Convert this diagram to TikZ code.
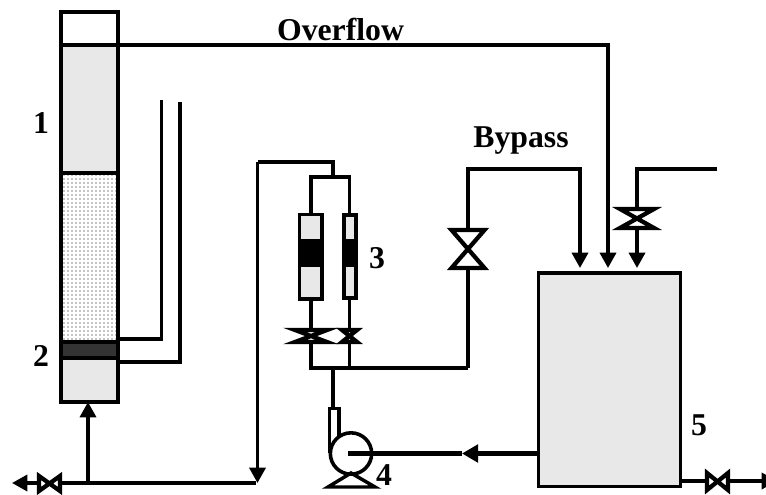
\documentclass[tikz,border=0pt]{standalone}
\usepackage{fontspec}
\setmainfont{Liberation Serif}
\usetikzlibrary{arrows.meta,patterns,calc}
\tikzset{
  pipe/.style={line width=2.6pt,line cap=butt,line join=miter},
  flow/.style={pipe,-{Triangle[length=11.5pt,width=12pt]}},
  wall/.style={draw,line width=2.7pt,minimum width=0pt,minimum height=0pt,inner sep=0pt,outer sep=0pt},
  lightfill/.style={wall,fill=black!9},
  tag/.style={font=\fontsize{23.8}{26}\selectfont\bfseries,inner sep=0pt},
  valve/.style={pipe,line width=3.2pt,fill=white},
}
% bow tie valve: centre, half width, half height
\newcommand{\valveV}[3]{\draw[valve] ($(#1)+(-#2,-#3)$) -- ($(#1)+(#2,-#3)$) -- ($(#1)+(-#2,#3)$) -- ($(#1)+(#2,#3)$) -- cycle;}
\newcommand{\valveH}[3]{\draw[valve] ($(#1)+(-#2,-#3)$) -- ($(#1)+(-#2,#3)$) -- ($(#1)+(#2,-#3)$) -- ($(#1)+(#2,#3)$) -- cycle;}
\begin{document}
\begin{tikzpicture}[x=0.75pt,y=-0.75pt]
  \useasboundingbox (0,0) rectangle (766,495);
  % column
  \path[lightfill] (61,45) rectangle (118,173);
  \path[pattern=dots,pattern color=black] (61,173) rectangle (118,342);
  \path[lightfill] (61,358) rectangle (118,402);
  \draw[wall] (61,12) rectangle (118,402);
  \draw[wall] (61,45) -- (118,45);
  \draw[wall] (61,173) -- (118,173);
  \draw[wall,fill=black!80] (61,342) rectangle (118,358);
  \coordinate (columntop) at (118,45);
  \coordinate (columnfoot) at (88,402);
  \coordinate (tapa) at (118,339);
  \coordinate (tapb) at (118,362);
  \coordinate (tubea) at (161.5,100);
  \coordinate (tubeb) at (180,102);
  \draw[pipe] (tubea) |- (tapa);
  \draw[pipe] (tubeb) |- (tapb);
  % tank
  \node[lightfill,anchor=north west,minimum width=106.5pt,minimum height=160pt] (tank) at (538.5,273) {};
  \coordinate (inlet1) at (580,268);
  \coordinate (inlet2) at (608,268);
  \coordinate (inlet3) at (637,268);
  \coordinate (feed) at (717,169);
  \coordinate (tanklow) at (680,481);
  \coordinate (tankout) at (777,481);
  \coordinate (tankpump) at (538,453.5);
  \coordinate (pumparrow) at (462,453.5);
  % pump
  \draw[pipe] (329.5,453) |- (339,408.5) -- (339,440);
  \node[draw,circle,line width=2.7pt,fill=white,minimum size=31pt,inner sep=0pt] (pump) at (351,453.5) {};
  \coordinate (pumpc) at (348,453.5);
  \draw[pipe] (351,473) -- (328,487) -- (375,487) -- cycle;
  \coordinate (pumpup) at (333,408);
  \coordinate (split) at (333,368);
  % rotameters
  \draw[lightfill] (299.5,214.5) rectangle (322,299);
  \draw[wall,fill=black] (299.5,241) rectangle (322,265);
  \draw[lightfill] (344,215) rectangle (356,298);
  \draw[wall,fill=black] (344,241) rectangle (356,265);
  \coordinate (rotaltop) at (311,214);
  \coordinate (rotalbot) at (311,300);
  \coordinate (rotartop) at (349.5,214);
  \coordinate (rotarbot) at (349.5,298);
  \coordinate (bendl) at (311,368);
  \coordinate (bendm) at (349.5,368);
  \coordinate (bendr) at (468,368);
  \coordinate (topjoin) at (333,177);
  \coordinate (riser) at (257.5,162);
  \coordinate (drop) at (257.5,483);
  \coordinate (bottomend) at (256,483);
  \coordinate (tee) at (88,483);
  \coordinate (leftend) at (12,483);
  % pipes
  \draw[pipe] (rotaltop) |- (topjoin) -| (rotartop);
  \draw[pipe] (rotalbot) -- (bendl) -- (bendr);
  \draw[pipe] (rotarbot) -- (bendm);
  \draw[pipe] (topjoin) |- (riser);
  \draw[flow] (riser) -- (drop);
  \draw[pipe] (split) -- (pumpup);
  \draw[flow] (bendr) |- (580,169) -- (inlet1);
  \draw[flow] (columntop) -| (inlet2);
  \draw[flow] (feed) -| (inlet3);
  \draw[flow] (tee) -- (leftend);
  \draw[flow] (tee) -- (columnfoot);
  \draw[pipe] (bottomend) -- (tee);
  \draw[flow] (tanklow) -- (tankout);
  \draw[pipe,line width=3.2pt] (pumparrow) -- (pumpc);
  \draw[pipe,line width=3.2pt,-{Triangle[length=12pt,width=13pt]}] (tankpump) -- (pumparrow);
  % valves
  \valveV{468,249}{16.5}{19}
  \valveV{637,218.5}{17}{9.5}
  \valveV{311,336}{16}{6}
  \valveV{349.5,336}{7.5}{6}
  \valveH{49.5,483.5}{10.5}{7.5}
  \valveH{717.5,481.5}{10.5}{8.5}
  % labels
  \node[tag] (overflow) at (340.5,29) {Overflow};
  \node[tag] (bypass) at (521,141) {Bypass};
  \node[tag] (lab1) at (41,123) {1};
  \node[tag] (lab2) at (41,356) {2};
  \node[tag] (lab3) at (377,258) {3};
  \node[tag] (lab4) at (384,475) {4};
  \node[tag] (lab5) at (699,425) {5};
\end{tikzpicture}
\end{document}
